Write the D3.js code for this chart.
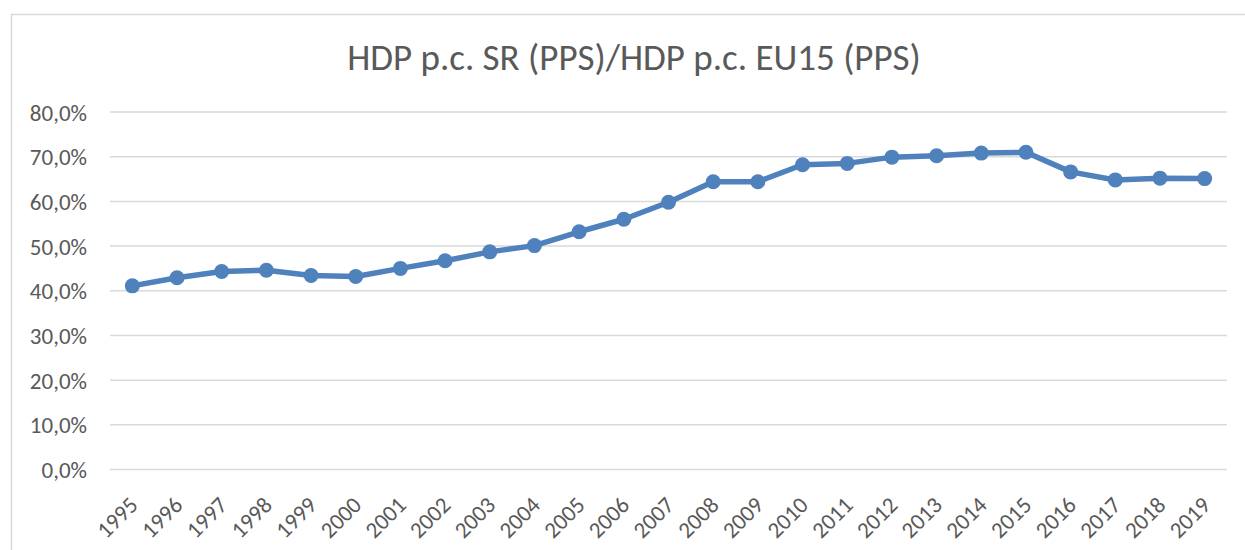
<!DOCTYPE html>
<html>
<head>
<meta charset="utf-8">
<script src="https://cdn.jsdelivr.net/npm/d3@7"></script>
<style>
  body { margin: 0; background: #fff; }
  svg { display: block; font-family: Carlito, "Open Sans", sans-serif; }
  .tick text { fill: #595959; }
</style>
</head>
<body>
<script>
(function(){
//data
var years = ["1995","1996","1997","1998","1999","2000","2001","2002","2003","2004","2005","2006",
	"2007","2008","2009","2010","2011","2012","2013","2014","2015","2016","2017","2018","2019"];
var ratio = [41.1, 42.9, 44.3, 44.6, 43.4, 43.2, 45.0, 46.7, 48.7, 50.1, 53.2, 56.0,
	59.8, 64.4, 64.4, 68.2, 68.5, 69.9, 70.2, 70.8, 71.0, 66.6, 64.8, 65.2, 65.1];
var yTicks = [0, 10, 20, 30, 40, 50, 60, 70, 80];
var title = "HDP p.c. SR (PPS)/HDP p.c. EU15 (PPS)";

var w = 1245, h = 550;
var left = 110, right = 1227, top = 112, bottom = 469.5;

var svg = d3.select("body").append("svg")
	.attr("width", w)
	.attr("height", h);

//chart frame (only top + left show in the crop)
svg.append("rect")
	.attr("x", 11.5).attr("y", 14.5)
	.attr("width", w + 20).attr("height", h + 20)
	.attr("fill", "#fff")
	.attr("stroke", "#d9d9d9")
	.attr("stroke-width", 1.5);

//title
svg.append("text")
	.attr("x", 634).attr("y", 70)
	.attr("text-anchor", "middle")
	.attr("fill", "#595959")
	.style("font-size", "37px")
	.text(title);

//scales
var x = d3.scaleBand().domain(years).range([left, right]);
var y = d3.scaleLinear().domain([0, 80]).range([bottom, top]);

//gridlines
svg.append("g").selectAll("line")
	.data(yTicks).enter()
	.append("line")
	.attr("x1", left).attr("x2", right)
	.attr("y1", function(d){ return y(d); })
	.attr("y2", function(d){ return y(d); })
	.attr("stroke", "#d9d9d9")
	.attr("stroke-width", 1.5);

//y axis labels
var yAxis = svg.append("g")
	.attr("transform", "translate(" + (left - 23) + ",0)")
	.call(d3.axisLeft(y).tickValues(yTicks).tickSize(0).tickPadding(0)
		.tickFormat(function(d){ return d.toFixed(1).replace(".", ",") + "%"; }))
	.attr("font-family", null); //keep the page font, not d3's sans-serif
yAxis.select(".domain").remove();
yAxis.selectAll("text").style("font-size", "23px").attr("dy", "0.35em");

//x axis labels, rotated
var xAxis = svg.append("g")
	.attr("transform", "translate(0," + bottom + ")")
	.call(d3.axisBottom(x).tickSize(0).tickPadding(0))
	.attr("font-family", null);
xAxis.select(".domain").remove();
xAxis.selectAll("text")
	.style("font-size", "23px")
	.attr("text-anchor", "end")
	.attr("dy", null)
	.attr("y", 0)
	.attr("transform", "translate(7,37) rotate(-45)");

//line + markers
var line = d3.line()
	.x(function(d, i){ return x(years[i]) + x.bandwidth()/2; })
	.y(function(d){ return y(d); });

svg.append("path")
	.datum(ratio)
	.attr("d", line)
	.attr("fill", "none")
	.attr("stroke", "#4f81bd")
	.attr("stroke-width", 5.5)
	.attr("stroke-linejoin", "round");

svg.selectAll(".dot")
	.data(ratio).enter()
	.append("circle")
	.attr("class", "dot")
	.attr("cx", function(d, i){ return x(years[i]) + x.bandwidth()/2; })
	.attr("cy", function(d){ return y(d); })
	.attr("r", 7.5)
	.attr("fill", "#4f81bd");
})();
</script>
</body>
</html>
